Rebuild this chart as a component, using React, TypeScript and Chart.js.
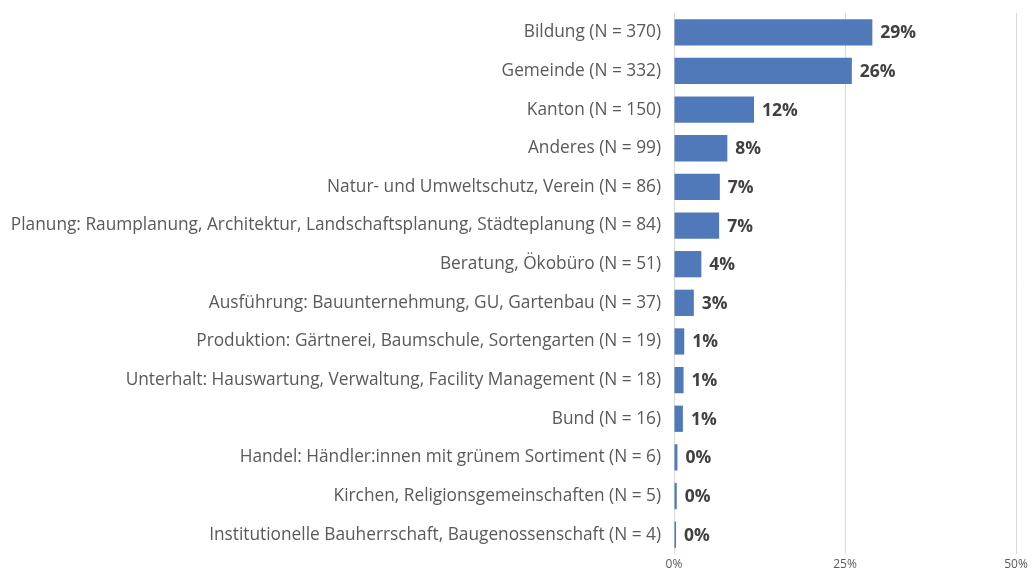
import React, { useEffect, useRef } from "react";
import { Chart, registerables } from "chart.js";

Chart.register(...registerables);

const categories: string[] = [
  "Bildung (N = 370)",
  "Gemeinde (N = 332)",
  "Kanton (N = 150)",
  "Anderes (N = 99)",
  "Natur- und Umweltschutz, Verein (N = 86)",
  "Planung: Raumplanung, Architektur, Landschaftsplanung, Städteplanung (N = 84)",
  "Beratung, Ökobüro (N = 51)",
  "Ausführung: Bauunternehmung, GU, Gartenbau (N = 37)",
  "Produktion: Gärtnerei, Baumschule, Sortengarten (N = 19)",
  "Unterhalt: Hauswartung, Verwaltung, Facility Management (N = 18)",
  "Bund (N = 16)",
  "Handel: Händler:innen mit grünem Sortiment (N = 6)",
  "Kirchen, Religionsgemeinschaften (N = 5)",
  "Institutionelle Bauherrschaft, Baugenossenschaft (N = 4)",
];

const shares: number[] = [29.0, 26.0, 11.7, 7.8, 6.7, 6.6, 4.0, 2.9, 1.5, 1.4, 1.3, 0.5, 0.4, 0.3];

const shareLabels: string[] = ["29%", "26%", "12%", "8%", "7%", "7%", "4%", "3%", "1%", "1%", "1%", "0%", "0%", "0%"];

const xTicks: number[] = [0, 25, 50];

const FONT = "'Open Sans', 'Noto Sans', sans-serif";

const valueLabelPlugin = {
  id: "valueLabels",
  afterDatasetsDraw(chart: any) {
    const meta = chart.getDatasetMeta(0);
    const ctx = chart.ctx;
    ctx.save();
    ctx.font = `bold 17.5px ${FONT}`;
    ctx.fillStyle = "#404040";
    ctx.textAlign = "left";
    ctx.textBaseline = "middle";
    meta.data.forEach((bar: any, i: number) => {
      ctx.fillText(shareLabels[i], bar.x + 8, bar.y + 1);
    });
    ctx.restore();
  },
};

export default function App() {
  const ref = useRef<HTMLCanvasElement | null>(null);

  useEffect(() => {
    document.body.style.margin = "0";
    const canvas = ref.current;
    if (!canvas) return;
    const chart = new Chart(canvas, {
      type: "bar",
      data: {
        labels: categories,
        datasets: [
          {
            data: shares,
            backgroundColor: "#5079b9",
            borderWidth: 0,
            barPercentage: 0.68,
            categoryPercentage: 1,
          },
        ],
      },
      options: {
        indexAxis: "y",
        animation: false,
        responsive: false,
        maintainAspectRatio: false,
        layout: { padding: { top: 13, right: 17, left: 0, bottom: 0 } },
        plugins: {
          legend: { display: false },
          tooltip: { enabled: false },
        },
        scales: {
          x: {
            min: 0,
            max: 50,
            afterBuildTicks(scale: any) {
              scale.ticks = xTicks.map((v) => ({ value: v }));
            },
            grid: { color: "#d9d9d9", lineWidth: 1, drawTicks: false },
            border: { display: false },
            ticks: {
              padding: 3,
              color: "#595959",
              font: { family: FONT, size: 12 },
              callback: (v: any) => `${v}%`,
            },
            afterFit(scale: any) {
              scale.height = 15;
              scale.paddingLeft = 0;
              scale.paddingRight = 0;
            },
          },
          y: {
            grid: { display: false, drawTicks: false },
            border: { display: false },
            ticks: {
              padding: 13,
              color: "#595959",
              font: { family: FONT, size: 17.3 },
              autoSkip: false,
            },
            afterFit(scale: any) {
              scale.width = 674;
              scale.paddingTop = 0;
              scale.paddingBottom = 0;
            },
          },
        },
      },
      plugins: [valueLabelPlugin],
    });
    return () => chart.destroy();
  }, []);

  return (
    <div style={{ width: 1033, height: 569 }}>
      <canvas ref={ref} width={1033} height={569} style={{ display: "block" }} />
    </div>
  );
}
